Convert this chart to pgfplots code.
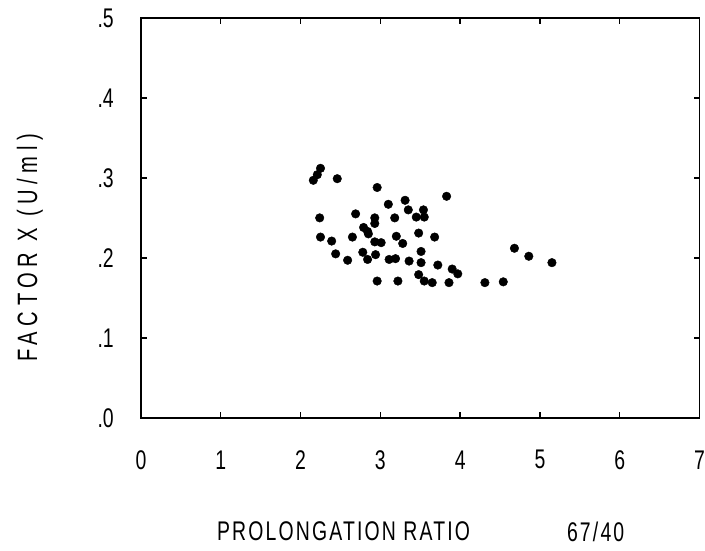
\documentclass[border=0pt]{standalone}
\usepackage{fontspec}
\setmainfont{Liberation Sans}[FakeStretch=0.72]
\usepackage{pgfplots}
\pgfplotsset{compat=1.18}
\begin{document}
\begin{tikzpicture}
\begin{axis}[
 width=559pt, height=400pt, scale only axis,
 xmin=0,xmax=7,ymin=0,ymax=0.5,
 axis line style={line width=1.6pt},
 tick align=inside, major tick length=6pt,
 every tick/.style={line width=1.4pt,black},
 xtick={0,1,2,3,4,5,6,7}, xticklabels={0,1,2,3,4,5,6,7},
 ytick={0,0.1,0.2,0.3,0.4,0.5}, yticklabels={.0,.1,.2,.3,.4,.5},
 tick label style={font=\fontsize{27}{30}\selectfont, inner sep=0pt},
 xticklabel style={anchor=center, yshift=-42pt},
 yticklabel style={anchor=east, xshift=-27pt},
 clip=false,
]
\addplot[only marks, mark=*, mark size=4.3pt, black] coordinates {
(2.16,0.297) (2.21,0.304) (2.25,0.312) (2.46,0.299) (2.96,0.288)
(2.24,0.250) (2.25,0.226) (2.39,0.221) (2.44,0.205) (2.59,0.197)
(2.69,0.255) (2.65,0.226) (2.79,0.238) (2.84,0.233) (2.85,0.230)
(2.78,0.207) (2.84,0.198) (2.93,0.250) (2.93,0.243) (2.93,0.220)
(3.01,0.219) (2.94,0.204) (2.96,0.171) (3.10,0.267) (3.18,0.250)
(3.11,0.198) (3.19,0.199) (3.20,0.227) (3.28,0.218) (3.22,0.171)
(3.31,0.272) (3.35,0.260) (3.36,0.196) (3.45,0.251) (3.55,0.251)
(3.54,0.260) (3.48,0.231) (3.51,0.208) (3.51,0.194) (3.48,0.179)
(3.55,0.171) (3.65,0.169) (3.68,0.226) (3.72,0.191) (3.83,0.277)
(3.90,0.186) (3.97,0.180) (3.86,0.169) (4.31,0.169) (4.54,0.170)
(4.68,0.212) (4.86,0.202) (5.15,0.194)
};
\end{axis}
\node[rotate=90,inner sep=0pt,font=\fontsize{28}{32}\selectfont\addfontfeature{LetterSpace=20}] at ([shift={(-111pt,170pt)}]current axis.south west) {FACTOR X (U/ml)};
\node[anchor=west,inner sep=0pt,font=\fontsize{27}{32}\selectfont\addfontfeature{LetterSpace=8}] at ([shift={(76pt,-114pt)}]current axis.south west) {PROLONGATION RATIO};
\node[inner sep=0pt,font=\fontsize{27}{32}\selectfont\addfontfeature{LetterSpace=8}] at ([shift={(455pt,-114pt)}]current axis.south west) {67/40};
\path[use as bounding box] ([shift={(-141pt,-133pt)}]current axis.south west) rectangle ([shift={(5pt,18pt)}]current axis.north east);
\end{tikzpicture}
\end{document}
